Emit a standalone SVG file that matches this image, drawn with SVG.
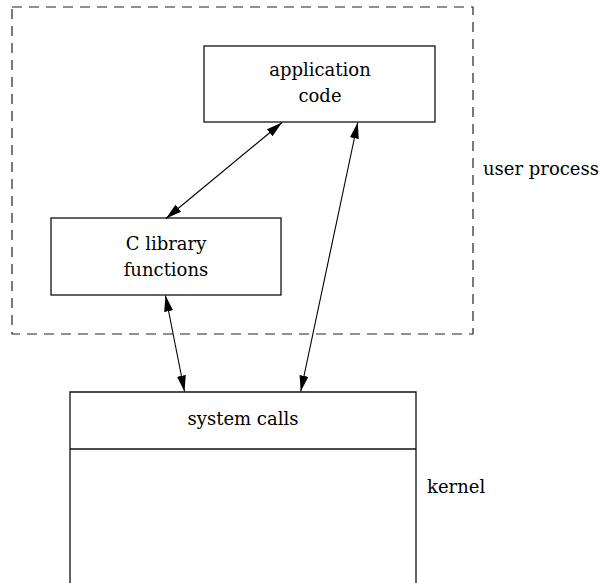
<svg xmlns="http://www.w3.org/2000/svg" width="600" height="583" viewBox="0 0 600 583">
<style>
.box{fill:none;stroke:#111;stroke-width:1.3}
.dash{fill:none;stroke:#222;stroke-width:1.2;stroke-dasharray:10 7}
.lbl{font-family:"DejaVu Serif","Liberation Serif",serif;font-size:18px;fill:#000}
.c{text-anchor:middle}
.conn{stroke:#000;stroke-width:1.1;fill:none;marker-start:url(#ah);marker-end:url(#ah)}
</style>
<defs>
<marker id="ah" markerUnits="userSpaceOnUse" markerWidth="17" markerHeight="10" refX="16" refY="4.5" orient="auto-start-reverse">
<path d="M0,0 L16,4.5 L0,9 z" fill="#000"/>
</marker>
</defs>
<rect fill="#fff" x="0" y="0" width="600" height="583"/>
<g id="user-process">
<rect class="dash" x="12" y="7" width="461" height="327"/>
<text class="lbl" x="483" y="175">user process</text>
</g>
<g id="application-code">
<rect class="box" x="204" y="46" width="231" height="76"/>
<text class="lbl c" x="320" y="76">application</text>
<text class="lbl c" x="320" y="102">code</text>
</g>
<g id="c-library">
<rect class="box" x="51" y="218" width="230" height="77"/>
<text class="lbl c" x="166" y="250">C library</text>
<text class="lbl c" x="166" y="276">functions</text>
</g>
<g id="kernel">
<path class="box" d="M70,583 L70,392 L416,392 L416,583 M70,449 L416,449"/>
<text class="lbl c" x="243" y="425">system calls</text>
<text class="lbl" x="427" y="493">kernel</text>
</g>
<g id="connectors">
<line class="conn" x1="282" y1="122.5" x2="166" y2="218.5"/>
<line class="conn" x1="165.5" y1="295.5" x2="184.5" y2="391.5"/>
<line class="conn" x1="357.7" y1="122.5" x2="300.7" y2="391.5"/>
</g>
</svg>
